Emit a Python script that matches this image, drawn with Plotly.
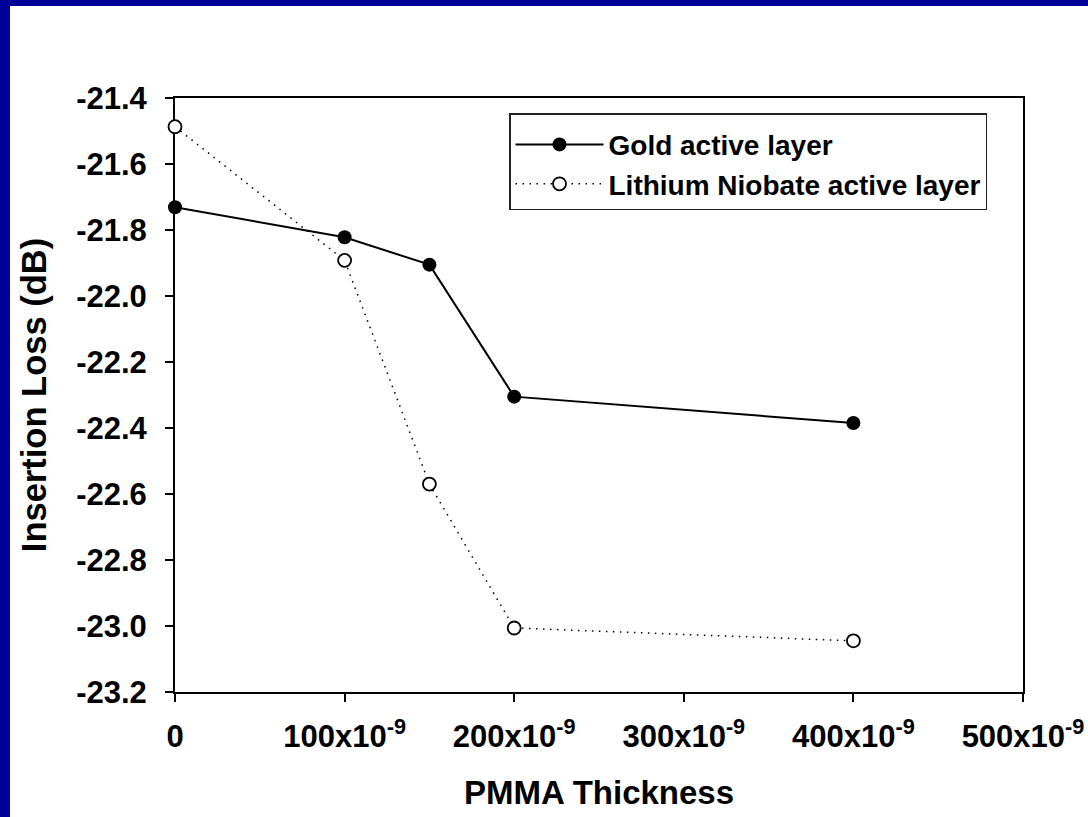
import plotly.graph_objects as go

# Data
pmma_thickness = [0, 100e-9, 150e-9, 200e-9, 400e-9]
gold_loss = [-21.731, -21.822, -21.905, -22.305, -22.385]
ln_loss = [-21.487, -21.892, -22.570, -23.006, -23.045]

x_tickvals = [0, 100e-9, 200e-9, 300e-9, 400e-9, 500e-9]
x_ticktext = ["0", "100x10<sup>-9</sup>", "200x10<sup>-9</sup>", "300x10<sup>-9</sup>",
              "400x10<sup>-9</sup>", "500x10<sup>-9</sup>"]
y_tickvals = [-23.2, -23.0, -22.8, -22.6, -22.4, -22.2, -22.0, -21.8, -21.6, -21.4]
y_ticktext = ["-23.2", "-23.0", "-22.8", "-22.6", "-22.4", "-22.2", "-22.0", "-21.8", "-21.6", "-21.4"]

W, H = 1088, 817
ML, MR, MT, MB = 175, 65, 98, 125
PW, PH = W - ML - MR, H - MT - MB

def px_x(p):
    return (p - ML) / PW

def px_y(p):
    return (H - MB - p) / PH

FONT = "Liberation Sans, Arial, sans-serif"

fig = go.Figure()
fig.add_trace(go.Scatter(
    x=pmma_thickness, y=gold_loss, mode="lines+markers",
    name="Gold active layer",
    line=dict(color="black", width=2),
    marker=dict(symbol="circle", size=14, color="black"),
    cliponaxis=False,
))
fig.add_trace(go.Scatter(
    x=pmma_thickness, y=ln_loss, mode="lines+markers",
    name="Lithium Niobate active layer",
    line=dict(color="black", width=1.5, dash="1.5px,5.5px"),
    marker=dict(symbol="circle", size=13, color="white",
                line=dict(color="black", width=1.8)),
    cliponaxis=False,
))

axis_common = dict(
    showgrid=False, zeroline=False, showline=True, linecolor="black", linewidth=2,
    mirror=True, ticks="outside", ticklen=8, tickwidth=2, tickcolor="black",
    layer="below traces", automargin=False,
)

fig.update_layout(
    width=W, height=H,
    margin=dict(l=ML, r=MR, t=MT, b=MB),
    paper_bgcolor="white", plot_bgcolor="white",
    showlegend=True,
    legend=dict(
        x=px_x(509), y=px_y(113), xanchor="left", yanchor="top",
        bgcolor="white", bordercolor="#222222", borderwidth=1.5,
        font=dict(family=FONT, size=28, color="black", weight="bold"),
        itemwidth=88, tracegroupgap=0,
        title=dict(text=" ", font=dict(size=4)),
    ),
    xaxis=dict(
        range=[0, 500e-9], tickmode="array", tickvals=x_tickvals, ticktext=x_ticktext,
        tickfont=dict(family=FONT, size=31, color="black", weight="bold"),
        ticklabelstandoff=8,
        title=dict(text="PMMA Thickness", standoff=28,
                   font=dict(family=FONT, size=33, color="black", weight="bold")),
        **axis_common,
    ),
    yaxis=dict(
        range=[-23.2, -21.4], tickmode="array", tickvals=y_tickvals, ticktext=y_ticktext,
        tickfont=dict(family=FONT, size=31, color="black", weight="bold"),
        ticklabelstandoff=12,
        title=dict(text="Insertion Loss (dB)", standoff=19,
                   font=dict(family=FONT, size=34.5, color="black", weight="bold")),
        **axis_common,
    ),
    shapes=[
        dict(type="rect", xref="paper", yref="paper", layer="below",
             x0=px_x(-20), x1=px_x(10), y0=px_y(H + 50), y1=px_y(-50),
             fillcolor="#000099", line=dict(width=0)),
        dict(type="rect", xref="paper", yref="paper", layer="below",
             x0=px_x(-20), x1=px_x(W + 50), y0=px_y(6), y1=px_y(-50),
             fillcolor="#000099", line=dict(width=0)),
    ],
)

fig.write_html("out.html")
